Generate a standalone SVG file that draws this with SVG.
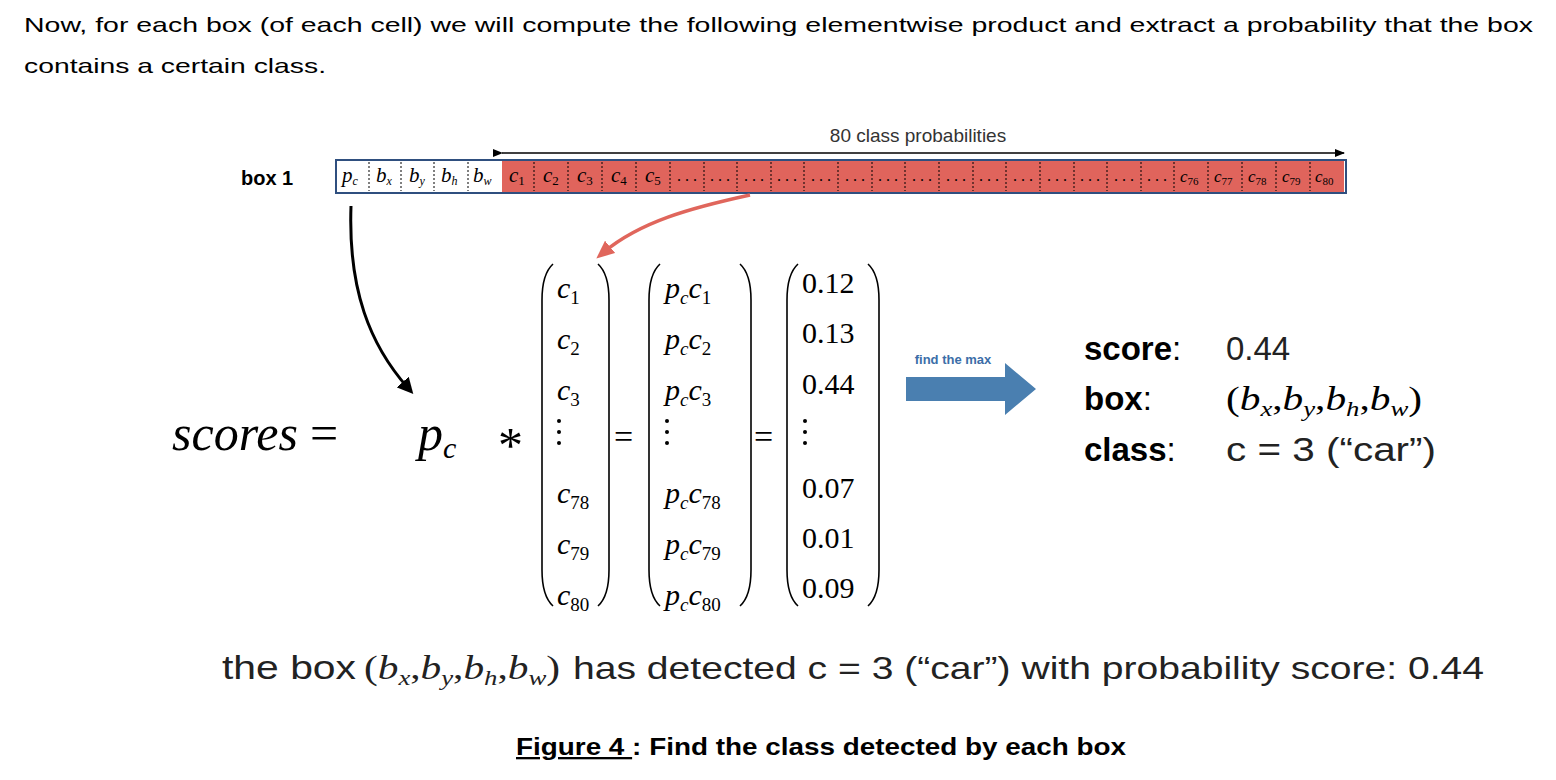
<svg xmlns="http://www.w3.org/2000/svg" width="1556" height="780" viewBox="0 0 1556 780">
<style>
.s{font-family:"Liberation Sans",Arial,sans-serif}
.m{font-family:"Liberation Serif","Times New Roman",serif}
.mi{font-family:"Liberation Serif","Times New Roman",serif;font-style:italic}
.cell{font-family:"Liberation Serif",serif;font-style:italic;font-size:21px}
.dt{font-family:"Liberation Serif",serif;font-size:16px;text-anchor:middle}
.dv{stroke:#000;stroke-width:1;stroke-dasharray:2,2}
.br{fill:none;stroke:#000;stroke-width:1.6}
.mx{font-family:"Liberation Serif",serif;font-size:30px}
</style>
<defs>
<marker id="ab" markerWidth="10" markerHeight="8" refX="9" refY="4" orient="auto" markerUnits="userSpaceOnUse"><path d="M0,0L10,4L0,8z" fill="#000"/></marker>
<marker id="ak" markerWidth="16" markerHeight="16" refX="8" refY="8" orient="auto" markerUnits="userSpaceOnUse"><path d="M0,0L16,8L0,16z" fill="#000"/></marker>
<marker id="ar" markerWidth="18" markerHeight="16" refX="8" refY="8" orient="auto" markerUnits="userSpaceOnUse"><path d="M0,0L18,8L0,16z" fill="#e0665c"/></marker>
</defs>
<rect width="1556" height="780" fill="#fff"/>
<text class="s" x="24" y="32" font-size="21" textLength="1509" lengthAdjust="spacingAndGlyphs">Now, for each box (of each cell) we will compute the following elementwise product and extract a probability that the box</text>
<text class="s" x="24" y="73" font-size="21" textLength="302" lengthAdjust="spacingAndGlyphs">contains a certain class.</text>

<g id="strip">
<text class="s" x="241" y="185" font-size="20" font-weight="bold">box 1</text>
<rect x="502" y="160" width="842" height="33" fill="#e0645c"/>
<rect x="336" y="160" width="1010" height="33" fill="none" stroke="#2f4f7f" stroke-width="2"/>
<g class="dv">
<line x1="369" y1="162" x2="369" y2="191"/><line x1="401" y1="162" x2="401" y2="191"/><line x1="434" y1="162" x2="434" y2="191"/><line x1="468" y1="162" x2="468" y2="191"/>
<line x1="534" y1="162" x2="534" y2="191"/><line x1="568" y1="162" x2="568" y2="191"/><line x1="602" y1="162" x2="602" y2="191"/><line x1="636" y1="162" x2="636" y2="191"/><line x1="670" y1="162" x2="670" y2="191"/>
<line x1="704" y1="162" x2="704" y2="191"/><line x1="737" y1="162" x2="737" y2="191"/><line x1="771" y1="162" x2="771" y2="191"/><line x1="804" y1="162" x2="804" y2="191"/><line x1="838" y1="162" x2="838" y2="191"/><line x1="872" y1="162" x2="872" y2="191"/><line x1="905" y1="162" x2="905" y2="191"/><line x1="939" y1="162" x2="939" y2="191"/><line x1="973" y1="162" x2="973" y2="191"/><line x1="1006" y1="162" x2="1006" y2="191"/><line x1="1040" y1="162" x2="1040" y2="191"/><line x1="1074" y1="162" x2="1074" y2="191"/><line x1="1107" y1="162" x2="1107" y2="191"/><line x1="1141" y1="162" x2="1141" y2="191"/><line x1="1174" y1="162" x2="1174" y2="191"/>
<line x1="1208" y1="162" x2="1208" y2="191"/><line x1="1242" y1="162" x2="1242" y2="191"/><line x1="1276" y1="162" x2="1276" y2="191"/><line x1="1310" y1="162" x2="1310" y2="191"/>
</g>
<g class="cell">
<text x="342" y="182">p<tspan font-size="12" dy="3">c</tspan></text>
<text x="376" y="182">b<tspan font-size="12" dy="3">x</tspan></text>
<text x="409" y="182">b<tspan font-size="12" dy="3">y</tspan></text>
<text x="441" y="182">b<tspan font-size="12" dy="3">h</tspan></text>
<text x="473" y="182">b<tspan font-size="12" dy="3">w</tspan></text>
<text x="509" y="182">c<tspan font-size="13" dy="3" font-style="normal">1</tspan></text>
<text x="543" y="182">c<tspan font-size="13" dy="3" font-style="normal">2</tspan></text>
<text x="577" y="182">c<tspan font-size="13" dy="3" font-style="normal">3</tspan></text>
<text x="611" y="182">c<tspan font-size="13" dy="3" font-style="normal">4</tspan></text>
<text x="645" y="182">c<tspan font-size="13" dy="3" font-style="normal">5</tspan></text>
</g>
<g class="cell">
<text x="1180" y="182" font-size="17">c<tspan font-size="11" dy="3" font-style="normal">76</tspan></text>
<text x="1214" y="182" font-size="17">c<tspan font-size="11" dy="3" font-style="normal">77</tspan></text>
<text x="1248" y="182" font-size="17">c<tspan font-size="11" dy="3" font-style="normal">78</tspan></text>
<text x="1282" y="182" font-size="17">c<tspan font-size="11" dy="3" font-style="normal">79</tspan></text>
<text x="1315" y="182" font-size="17">c<tspan font-size="11" dy="3" font-style="normal">80</tspan></text>
</g>
<g class="dt">
<text x="687" y="181">. . .</text><text x="720" y="181">. . .</text><text x="754" y="181">. . .</text><text x="787" y="181">. . .</text><text x="821" y="181">. . .</text><text x="855" y="181">. . .</text><text x="888" y="181">. . .</text><text x="922" y="181">. . .</text><text x="956" y="181">. . .</text><text x="989" y="181">. . .</text><text x="1023" y="181">. . .</text><text x="1057" y="181">. . .</text><text x="1090" y="181">. . .</text><text x="1124" y="181">. . .</text><text x="1157" y="181">. . .</text>
</g>
<text class="s" x="918" y="142" font-size="19" text-anchor="middle" fill="#333">80 class probabilities</text>
</g>

<g id="connectors">
<line x1="502" y1="153" x2="1344" y2="153" stroke="#000" stroke-width="1.5" marker-start="url(#ab)" marker-end="url(#ab)"/>
<path d="M351,206 C348,290 370,345 408,388" fill="none" stroke="#000" stroke-width="3" marker-end="url(#ak)"/>
<path d="M750,195 C690,208 640,222 604,252" fill="none" stroke="#e0665c" stroke-width="3.5" marker-end="url(#ar)"/>
<g id="findmax">
<text class="s" x="953" y="364" font-size="13" font-weight="bold" fill="#3b6ea8" text-anchor="middle">find the max</text>
<path d="M906,377 H1005 V363 L1036,389 L1005,415 V401 H906 Z" fill="#4a7fb0"/>
</g>
</g>

<g id="equation">
<text class="mi" x="172" y="450" font-size="50">scores</text>
<text class="m" x="310" y="450" font-size="50">=</text>
<text class="mi" x="418" y="450" font-size="50">p<tspan font-size="30" dy="8">c</tspan></text>
<text class="m" x="498" y="462" font-size="50">*</text>
<text class="m" x="614" y="448" font-size="34">=</text>
<text class="m" x="754" y="448" font-size="34">=</text>
<path class="br" d="M553,264 Q542,274 542,300 V570 Q542,596 553,606"/>
<path class="br" d="M598,264 Q609,274 609,300 V570 Q609,596 598,606"/>
<path class="br" d="M660,264 Q649,274 649,300 V570 Q649,596 660,606"/>
<path class="br" d="M740,264 Q751,274 751,300 V570 Q751,596 740,606"/>
<path class="br" d="M798,264 Q787,274 787,300 V570 Q787,596 798,606"/>
<path class="br" d="M868,264 Q879,274 879,300 V570 Q879,596 868,606"/>
<g class="mx">
<text x="557" y="298"><tspan font-style="italic">c</tspan><tspan font-size="19" dy="6">1</tspan></text>
<text x="557" y="349"><tspan font-style="italic">c</tspan><tspan font-size="19" dy="6">2</tspan></text>
<text x="557" y="400"><tspan font-style="italic">c</tspan><tspan font-size="19" dy="6">3</tspan></text>
<text x="557" y="503"><tspan font-style="italic">c</tspan><tspan font-size="19" dy="6">78</tspan></text>
<text x="557" y="554"><tspan font-style="italic">c</tspan><tspan font-size="19" dy="6">79</tspan></text>
<text x="557" y="605"><tspan font-style="italic">c</tspan><tspan font-size="19" dy="6">80</tspan></text>
<text x="665" y="298"><tspan font-style="italic">p</tspan><tspan font-size="19" dy="6" font-style="italic">c</tspan><tspan dy="-6" font-style="italic">c</tspan><tspan font-size="19" dy="6">1</tspan></text>
<text x="665" y="349"><tspan font-style="italic">p</tspan><tspan font-size="19" dy="6" font-style="italic">c</tspan><tspan dy="-6" font-style="italic">c</tspan><tspan font-size="19" dy="6">2</tspan></text>
<text x="665" y="400"><tspan font-style="italic">p</tspan><tspan font-size="19" dy="6" font-style="italic">c</tspan><tspan dy="-6" font-style="italic">c</tspan><tspan font-size="19" dy="6">3</tspan></text>
<text x="665" y="503"><tspan font-style="italic">p</tspan><tspan font-size="19" dy="6" font-style="italic">c</tspan><tspan dy="-6" font-style="italic">c</tspan><tspan font-size="19" dy="6">78</tspan></text>
<text x="665" y="554"><tspan font-style="italic">p</tspan><tspan font-size="19" dy="6" font-style="italic">c</tspan><tspan dy="-6" font-style="italic">c</tspan><tspan font-size="19" dy="6">79</tspan></text>
<text x="665" y="605"><tspan font-style="italic">p</tspan><tspan font-size="19" dy="6" font-style="italic">c</tspan><tspan dy="-6" font-style="italic">c</tspan><tspan font-size="19" dy="6">80</tspan></text>
<text x="802" y="293">0.12</text>
<text x="802" y="343">0.13</text>
<text x="802" y="394">0.44</text>
<text x="802" y="498">0.07</text>
<text x="802" y="548">0.01</text>
<text x="802" y="598">0.09</text>
</g>
<g fill="#000">
<circle cx="559" cy="421" r="2"/><circle cx="559" cy="432" r="2"/><circle cx="559" cy="443" r="2"/>
<circle cx="667" cy="421" r="2"/><circle cx="667" cy="432" r="2"/><circle cx="667" cy="443" r="2"/>
<circle cx="805" cy="421" r="2"/><circle cx="805" cy="432" r="2"/><circle cx="805" cy="443" r="2"/>
</g>
</g>

<g id="result">
<text class="s" x="1084" y="360" font-size="33"><tspan font-weight="bold">score</tspan>:</text>
<text class="s" x="1226" y="360" font-size="33" fill="#222">0.44</text>
<text class="s" x="1084" y="410" font-size="33"><tspan font-weight="bold">box</tspan>:</text>
<text class="m" x="1226" y="410" font-size="34" textLength="196" lengthAdjust="spacingAndGlyphs">(<tspan font-style="italic">b</tspan><tspan font-size="22" dy="6" font-style="italic">x</tspan><tspan dy="-6">,</tspan><tspan font-style="italic">b</tspan><tspan font-size="22" dy="6" font-style="italic">y</tspan><tspan dy="-6">,</tspan><tspan font-style="italic">b</tspan><tspan font-size="22" dy="6" font-style="italic">h</tspan><tspan dy="-6">,</tspan><tspan font-style="italic">b</tspan><tspan font-size="22" dy="6" font-style="italic">w</tspan><tspan dy="-6">)</tspan></text>
<text class="s" x="1084" y="461" font-size="33"><tspan font-weight="bold">class</tspan>:</text>
<text class="s" x="1226" y="461" font-size="33" fill="#222" textLength="210" lengthAdjust="spacingAndGlyphs">c = 3 (“car”)</text>
</g>

<g id="caption">
<text class="s" x="222" y="679" font-size="33" fill="#222" textLength="134" lengthAdjust="spacingAndGlyphs">the box</text>
<text class="m" x="364" y="679" font-size="34" fill="#222" textLength="196" lengthAdjust="spacingAndGlyphs">(<tspan font-style="italic">b</tspan><tspan font-size="22" dy="6" font-style="italic">x</tspan><tspan dy="-6">,</tspan><tspan font-style="italic">b</tspan><tspan font-size="22" dy="6" font-style="italic">y</tspan><tspan dy="-6">,</tspan><tspan font-style="italic">b</tspan><tspan font-size="22" dy="6" font-style="italic">h</tspan><tspan dy="-6">,</tspan><tspan font-style="italic">b</tspan><tspan font-size="22" dy="6" font-style="italic">w</tspan><tspan dy="-6">)</tspan></text>
<text class="s" x="573" y="679" font-size="32" fill="#222" textLength="911" lengthAdjust="spacingAndGlyphs">has detected c = 3 (“car”) with probability score: 0.44</text>
<text class="s" x="516" y="755" font-size="23" font-weight="bold" textLength="610" lengthAdjust="spacingAndGlyphs"><tspan text-decoration="underline">Figure 4 </tspan>: Find the class detected by each box</text>
</g>
</svg>
